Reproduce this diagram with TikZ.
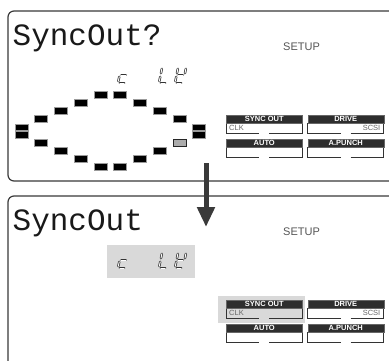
\documentclass[tikz,border=0pt]{standalone}
\usepackage{fontspec}
\setmainfont{Liberation Sans}
\newfontfamily\lcdfont{Liberation Mono}
\usetikzlibrary{arrows.meta}
\definecolor{panelline}{HTML}{3A3A3A}
\definecolor{hdrfill}{HTML}{2E2E2E}
\definecolor{hilite}{HTML}{D9D9D9}
\definecolor{segedge}{HTML}{9A9A9A}
\definecolor{txtgray}{HTML}{555555}
\tikzset{
  panel/.style={draw=panelline, line width=1.2pt, rounded corners=6pt},
  segbox/.style={rectangle, minimum width=13pt, minimum height=6.5pt, inner sep=0pt, fill=black, draw=segedge, line width=0.6pt},
  segdim/.style={segbox, fill=gray!65, draw=black!85},
  dsegout/.style={line width=2.4pt, line cap=round, draw=black!80},
  dsegin/.style={line width=0.9pt, line cap=round, draw=white},
  lcdtext/.style={inner sep=0pt, anchor=base west, font=\lcdfont\fontsize{31}{31}\selectfont, text=black!90},
  setuptext/.style={inner sep=0pt, anchor=base west, font=\fontsize{11}{11}\selectfont, text=txtgray},
  hdr/.style={rectangle, anchor=north west, minimum width=76pt, minimum height=8pt, inner sep=0pt, fill=hdrfill, draw=black!60, line width=0.5pt, text=white, font=\bfseries\fontsize{7.5}{7.5}\selectfont},
  rowline/.style={draw=black!80, line width=0.9pt},
  rowtext/.style={inner sep=0pt, font=\fontsize{7.5}{7.5}\selectfont, text=black!60},
  bigarrow/.style={draw=panelline, line width=5pt, -{Triangle[width=17pt,length=20pt]}}
}
% one 7-segment stroke, outlined
\newcommand\dseg[2]{\draw[dsegout] #1 -- #2; \draw[dsegin] #1 -- #2;}
\newcommand\sgA{\dseg{(1.8,-16)}{(6.2,-16)}}
\newcommand\sgB{\dseg{(8,-14.2)}{(8,-9.8)}}
\newcommand\sgC{\dseg{(8,-6.2)}{(8,-1.8)}}
\newcommand\sgD{\dseg{(1.8,0)}{(6.2,0)}}
\newcommand\sgE{\dseg{(0,-1.8)}{(0,-6.2)}}
\newcommand\sgF{\dseg{(0,-9.8)}{(0,-14.2)}}
\newcommand\sgG{\dseg{(1.8,-8)}{(6.2,-8)}}
% digits: c, L, and the third glyph; #1 = baseline y
\newcommand\lcddigits[1]{%
  \begin{scope}[shift={(118,#1)}, xslant=0.2]\sgG\sgE\sgD\end{scope}
  \begin{scope}[shift={(159,#1)}, xslant=0.2]\sgF\sgE\sgD\end{scope}
  \begin{scope}[shift={(175,#1)}, xslant=0.2]\sgF\sgB\sgG\sgE\sgD\end{scope}}
% button: #1 x, #2 y, #3 name, #4 header, #5 left text, #6 right text, #7 row fill
\newcommand\panelbutton[7]{%
  \begin{scope}[shift={(#1,#2)}]
    \fill[#7] (0,8) rectangle (76,18);
    \draw[rowline] (0,8) -- (0,18) -- (33,18);
    \draw[rowline] (43,18) -- (76,18) -- (76,8);
    \node[hdr] (#3) at (0,0) {#4};
    \node[rowtext, anchor=west] (#3l) at (3,13.3) {#5};
    \node[rowtext, anchor=east] (#3r) at (73,13.3) {#6};
  \end{scope}}
\begin{document}
\begin{tikzpicture}[x=1pt,y=-1pt]
\useasboundingbox (0,0) rectangle (389,360);
\fill[white] (0,0) rectangle (389,360);

% ---------- top panel ----------
\draw[panel] (392,11) -- (8,11) -- (8,181) -- (392,181);
\node[lcdtext] (title1) at (12.5,45) {SyncOut?};
\node[setuptext] (setup1) at (283,50) {SETUP};
\lcddigits{83}

% segment ring
\foreach \x/\y [count=\i] in {21.5/127.5, 41.25/119, 61/111, 80.75/103, 100.5/95, 120.25/95, 140/103, 159.75/111, 179.5/119, 199.25/127.5,
  21.5/134.7, 41.25/143, 61/151, 80.75/159, 100.5/167, 120.25/167, 140/159, 159.75/151, 199.25/134.7}
  \node[segbox] (ring\i) at (\x,\y) {};
\node[segdim] (ringdim) at (179.5,142.7) {};

\panelbutton{226}{115}{syncA}{SYNC OUT}{CLK}{}{white}
\panelbutton{307.5}{115}{driveA}{DRIVE}{}{SCSI}{white}
\panelbutton{226}{139}{autoA}{AUTO}{}{}{white}
\panelbutton{307.5}{139}{punchA}{A.PUNCH}{}{}{white}

% ---------- bottom panel ----------
\draw[panel] (392,196) -- (8,196) -- (8,363);
\node[lcdtext] (title2) at (12.5,230) {SyncOut};
\node[setuptext] (setup2) at (283,235) {SETUP};
\fill[hilite] (107,245) rectangle (195,278);
\lcddigits{268}

\fill[hilite] (218,296) rectangle (305,323);
\panelbutton{226}{300}{syncB}{SYNC OUT}{CLK}{}{hilite}
\panelbutton{307.5}{300}{driveB}{DRIVE}{}{SCSI}{white}
\panelbutton{226}{324}{autoB}{AUTO}{}{}{white}
\panelbutton{307.5}{324}{punchB}{A.PUNCH}{}{}{white}

% ---------- arrow ----------
\coordinate (arrowtop) at (206,163);
\coordinate (arrowtip) at (206,227);
\draw[bigarrow] (arrowtop) -- (arrowtip);
\end{tikzpicture}
\end{document}
